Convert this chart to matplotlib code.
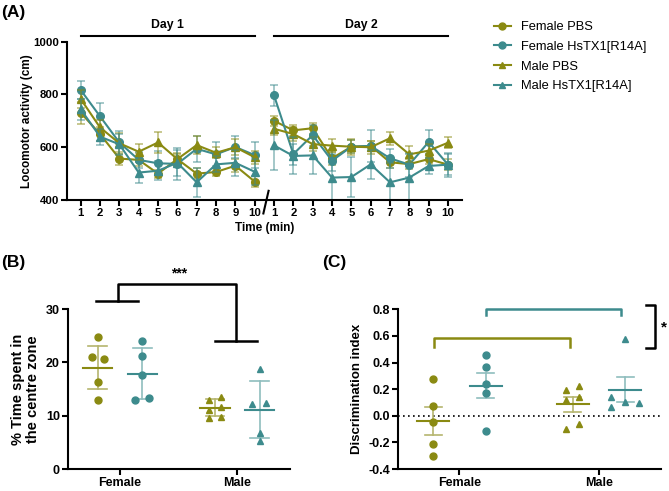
import numpy as np
import matplotlib.pyplot as plt
from matplotlib.lines import Line2D

plt.rcParams['font.family'] = ['Liberation Sans', 'DejaVu Sans']

# Farben
olive = '#8a8a12'
teal = '#3d8b8d'
olive_light = '#b5b56e'
teal_light = '#8fbdbe'

# ---- Daten Panel A (Tag 1 + Tag 2, je 10 Minuten) ----
minutes = list(range(1, 11))
f_pbs = [731, 650, 557, 552, 500, 555, 500, 506, 530, 470,
         700, 664, 672, 558, 602, 605, 543, 536, 555, 534]
f_pbs_err = [42, 25, 25, 25, 15, 20, 20, 15, 25, 20,
             20, 20, 20, 25, 30, 20, 20, 20, 20, 20]
f_hs = [817, 717, 618, 552, 539, 537, 594, 573, 601, 570,
        797, 574, 646, 549, 602, 605, 558, 534, 620, 534]
f_hs_err = [35, 50, 45, 30, 45, 60, 50, 45, 40, 50,
            40, 40, 40, 40, 25, 60, 35, 45, 45, 45]
m_pbs = [783, 675, 615, 583, 618, 555, 608, 579, 600, 562,
         670, 650, 612, 606, 602, 600, 634, 573, 587, 617]
m_pbs_err = [35, 30, 40, 30, 40, 25, 35, 20, 30, 25,
             25, 25, 25, 25, 25, 25, 25, 30, 25, 20]
m_hs = [744, 640, 611, 504, 511, 541, 467, 535, 541, 507,
        607, 567, 569, 485, 487, 535, 467, 485, 529, 534]
m_hs_err = [40, 30, 40, 40, 35, 50, 55, 30, 50, 50,
            95, 70, 70, 90, 75, 55, 75, 90, 30, 40]

# ---- Daten Panel B (% Zeit im Zentrum) ----
b_f_pbs = [24.7, 21.0, 20.6, 16.4, 13.0]
b_f_hs = [24.0, 21.25, 17.6, 12.9, 13.4]
b_m_pbs = [12.9, 13.5, 11.1, 11.7, 9.5, 9.8]
b_m_hs = [18.8, 12.1, 12.3, 6.8, 5.3]
b_means = [19.0, 17.9, 11.5, 11.1]
b_err = [4.0, 4.8, 1.6, 5.35]

# ---- Daten Panel C (Diskriminationsindex) ----
c_f_pbs = [0.278, 0.075, -0.045, -0.21, -0.30]
c_f_hs = [0.46, 0.368, 0.238, 0.168, -0.113]
c_m_pbs = [0.193, 0.226, 0.118, 0.143, -0.10, -0.062]
c_m_hs = [0.574, 0.138, 0.068, 0.10, 0.093]
c_means = [-0.038, 0.225, 0.085, 0.197]
c_err = [0.103, 0.095, 0.055, 0.097]

# Streuung der Punkte (x-Versatz)
b_jit = [[0, -0.05, 0.054, 0, 0], [0, 0, 0, -0.065, 0.054],
         [-0.054, 0.054, -0.054, 0.054, -0.054, 0.054], [0, -0.062, 0.051, 0, 0]]
c_jit = [[0, 0, 0, 0, 0], [0, 0, 0, 0, 0],
         [-0.046, 0.046, -0.046, 0.046, -0.046, 0.046], [0, -0.1, -0.1, 0, 0.1]]

W, H = 669, 491
fig = plt.figure(figsize=(W / 100, H / 100), dpi=100)


def style_axes(ax, fs=8):
    for s in ['top', 'right']:
        ax.spines[s].set_visible(False)
    for s in ['left', 'bottom']:
        ax.spines[s].set_linewidth(1.5)
    ax.tick_params(width=1.5, length=4, labelsize=fs, pad=2)
    for lab in ax.get_xticklabels() + ax.get_yticklabels():
        lab.set_fontweight('bold')


def px_axes(l, r, t, b):
    return fig.add_axes([l / W, 1 - b / H, (r - l) / W, (b - t) / H])


# ================= Panel A =================
axA = px_axes(67.3, 461.7, 41.7, 200)
x = np.arange(1, 21)
series = [(f_pbs, f_pbs_err, olive, 'o', 'Female PBS'),
          (f_hs, f_hs_err, teal, 'o', 'Female HsTX1[R14A]'),
          (m_pbs, m_pbs_err, olive, '^', 'Male PBS'),
          (m_hs, m_hs_err, teal, '^', 'Male HsTX1[R14A]')]
handles = []
for vals, err, col, mk, lab in series:
    axA.errorbar(x, vals, yerr=err, fmt='none', ecolor=col, alpha=0.55,
                 elinewidth=1.2, capsize=3, capthick=1.2)
    for seg in (slice(0, 10), slice(10, 20)):
        axA.plot(x[seg], np.array(vals)[seg], color=col, marker=mk, ms=5.5,
                 lw=1.5, mec=col)
    handles.append(Line2D([], [], color=col, marker=mk, ms=5, lw=1.5, label=lab))

axA.set_xlim(0.307, 20.71)
axA.set_ylim(400, 1000)
axA.set_yticks([400, 600, 800, 1000])
axA.set_xticks(x)
axA.set_xticklabels([str(m) for m in minutes] * 2)
style_axes(axA, 8.2)
axA.set_ylabel('Locomotor activity (cm)', fontsize=8.5, fontweight='bold', labelpad=0)
axA.set_xlabel('Time (min)', fontsize=8.5, fontweight='bold', labelpad=3)

tr = axA.get_xaxis_transform()
axA.plot([1, 10], [1.035, 1.035], color='black', lw=1.5, transform=tr, clip_on=False)
axA.plot([11, 20], [1.035, 1.035], color='black', lw=1.5, transform=tr, clip_on=False)
axA.text(5.5, 1.105, 'Day 1', transform=tr, ha='center', va='center',
         fontsize=8.8, fontweight='bold')
axA.text(15.5, 1.105, 'Day 2', transform=tr, ha='center', va='center',
         fontsize=8.8, fontweight='bold')
# Achsenbruch
axA.plot([10.45, 10.72], [-0.085, 0.058], color='black', lw=1.5, transform=tr, clip_on=False)

fig.legend(handles=handles, loc='upper left', bbox_to_anchor=(494 / W, 1 - 21 / H),
           frameon=False, fontsize=9.3, handlelength=1.3, handletextpad=0.8,
           labelspacing=0.6, borderpad=0, borderaxespad=0)

fig.text(1 / W, 1 - 13 / H, '(A)', fontsize=12.5, fontweight='bold', va='center')
fig.text(1 / W, 1 - 263 / H, '(B)', fontsize=12.5, fontweight='bold', va='center')
fig.text(322 / W, 1 - 263 / H, '(C)', fontsize=12.5, fontweight='bold', va='center')


def scatter_group(ax, center, vals, jit, col, mk, mean, err, light, mw, cw):
    xs = [center + j for j in jit]
    ax.plot(xs, vals, linestyle='none', marker=mk, ms=5, color=col, mec=col,
            clip_on=False, zorder=3)
    ax.plot([center - mw, center + mw], [mean, mean], color=col, lw=1.5, zorder=2)
    ax.plot([center, center], [mean - err, mean + err], color=light, lw=1.2, zorder=1)
    for yy in (mean - err, mean + err):
        ax.plot([center - cw, center + cw], [yy, yy], color=light, lw=1.2, zorder=1)


# ================= Panel B =================
axB = px_axes(68.3, 290, 309, 469)
groupsB = [(-0.19, b_f_pbs, olive, 'o', olive_light),
           (0.19, b_f_hs, teal, 'o', teal_light),
           (0.81, b_m_pbs, olive, '^', olive_light),
           (1.19, b_m_hs, teal, '^', teal_light)]
for i, (cx, vals, col, mk, light) in enumerate(groupsB):
    scatter_group(axB, cx, vals, b_jit[i], col, mk, b_means[i], b_err[i], light, 0.125, 0.08)
axB.set_xlim(-0.44, 1.449)
axB.set_ylim(0, 30)
axB.set_yticks([0, 10, 20, 30])
axB.set_xticks([0, 1])
axB.set_xticklabels(['Female', 'Male'])
style_axes(axB, 9)
axB.set_ylabel('% Time spent in\nthe centre zone', fontsize=10.5, fontweight='bold',
               labelpad=4, linespacing=1.1)
# Signifikanzklammer
kw = dict(color='black', lw=1.8, clip_on=False)
axB.plot([-0.2, 0.156], [31.44, 31.44], **kw)
axB.plot([-0.02, -0.02, 0.99, 0.99], [31.44, 34.7, 34.7, 24.0], **kw)
axB.plot([0.81, 1.17], [24.0, 24.0], **kw)
axB.text(0.5, 36.6, '***', ha='center', va='center', fontsize=10, fontweight='bold')

# ================= Panel C =================
axC = px_axes(398.3, 661, 309.3, 469)
groupsC = [(-0.186, c_f_pbs, olive, 'o', olive_light),
           (0.189, c_f_hs, teal, 'o', teal_light),
           (0.81, c_m_pbs, olive, '^', olive_light),
           (1.185, c_m_hs, teal, '^', teal_light)]
for i, (cx, vals, col, mk, light) in enumerate(groupsC):
    scatter_group(axC, cx, vals, c_jit[i], col, mk, c_means[i], c_err[i], light, 0.115, 0.06)
axC.axhline(0, color='black', lw=1.2, linestyle=(0, (1, 2)), zorder=0)
axC.set_xlim(-0.436, 1.44)
axC.set_ylim(-0.4, 0.8)
axC.set_yticks(np.round(np.arange(-0.4, 0.81, 0.2), 1))
axC.set_yticklabels(['%.1f' % v for v in np.arange(-0.4, 0.81, 0.2)])
axC.set_xticks([0, 1])
axC.set_xticklabels(['Female', 'Male'])
style_axes(axC, 9)
axC.set_ylabel('Discrimination index', fontsize=9.5, fontweight='bold', labelpad=4)
axC.plot([-0.181, -0.181, 0.788, 0.788], [0.52, 0.584, 0.584, 0.52],
         color=olive, lw=1.8, clip_on=False)
axC.plot([0.188, 0.188, 1.155, 1.155], [0.757, 0.805, 0.805, 0.757],
         color=teal, lw=1.8, clip_on=False)
axC.plot([1.333, 1.397, 1.397, 1.333], [0.832, 0.832, 0.511, 0.511],
         color='black', lw=1.8, clip_on=False)
axC.text(1.46, 0.66, '*', ha='center', va='center', fontsize=11, fontweight='bold')

fig.savefig('out.png', dpi=100)
